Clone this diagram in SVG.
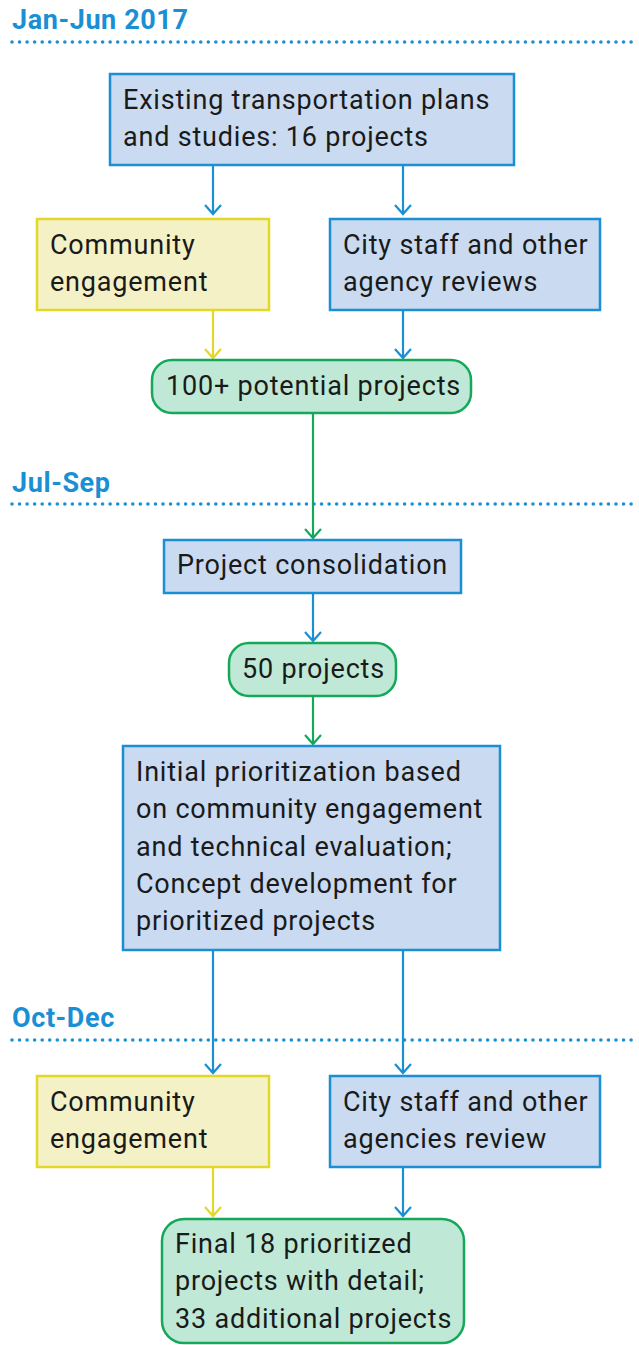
<svg xmlns="http://www.w3.org/2000/svg" width="639" height="1345" viewBox="0 0 639 1345">
<defs>
<style>
.blue{fill:#c9daf1;stroke:#1b8fd3;stroke-width:2.5}
.yel{fill:#f4f1c6;stroke:#e3d82a;stroke-width:2.5}
.grn{fill:#bfe9d6;stroke:#16a85a;stroke-width:2.5}
.t{font-family:Roboto,"Liberation Sans",sans-serif;font-size:27px;letter-spacing:0.8px;fill:#1a1a1a}
.h{font-family:Roboto,"Liberation Sans",sans-serif;font-size:27px;font-weight:bold;letter-spacing:0.6px;fill:#1b8fd3}
.dot{stroke:#1b8fd3;stroke-width:3.6;stroke-linecap:round;stroke-dasharray:0 7.55;fill:none}
.cb{stroke:#1b8fd3;stroke-width:2.2;fill:none}
.cy{stroke:#e3d82a;stroke-width:2.2;fill:none}
.cg{stroke:#16a85a;stroke-width:2.2;fill:none}
</style>
</defs>
<g id="phases">
<text class="h" x="12" y="29">Jan-Jun 2017</text>
<line class="dot" x1="12" y1="42" x2="632" y2="42"/>
<text class="h" x="12" y="492">Jul-Sep</text>
<line class="dot" x1="12" y1="504" x2="632" y2="504"/>
<text class="h" x="12" y="1027">Oct-Dec</text>
<line class="dot" x1="12" y1="1040" x2="632" y2="1040"/>
</g>
<g id="connectors">
<path class="cb" d="M213 165V214M205 205L213 214L221 205"/>
<path class="cb" d="M403 165V214M395 205L403 214L411 205"/>
<path class="cy" d="M213 310V358M205 349L213 358L221 349"/>
<path class="cb" d="M403 310V358M395 349L403 358L411 349"/>
<path class="cg" d="M313 413V538M305 529L313 538L321 529"/>
<path class="cb" d="M313 593V641M305 632L313 641L321 632"/>
<path class="cg" d="M313 696V744M305 735L313 744L321 735"/>
<path class="cb" d="M213 950V1073M205 1064L213 1073L221 1064"/>
<path class="cb" d="M403 950V1073M395 1064L403 1073L411 1064"/>
<path class="cy" d="M213 1167V1216M205 1207L213 1216L221 1207"/>
<path class="cb" d="M403 1167V1216M395 1207L403 1216L411 1207"/>
</g>
<g id="existing">
<rect class="blue" x="110" y="74" width="404" height="91"/>
<text class="t" x="123" y="109">Existing transportation plans</text>
<text class="t" x="123" y="146">and studies: 16 projects</text>
</g>
<g id="community1">
<rect class="yel" x="37" y="219" width="232" height="91"/>
<text class="t" x="50" y="254">Community</text>
<text class="t" x="50" y="291">engagement</text>
</g>
<g id="city1">
<rect class="blue" x="330" y="219" width="270" height="91"/>
<text class="t" x="343" y="254">City staff and other</text>
<text class="t" x="343" y="291">agency reviews</text>
</g>
<g id="potential">
<rect class="grn" x="152" y="360" width="319" height="53" rx="20"/>
<text class="t" x="166" y="395">100+ potential projects</text>
</g>
<g id="consolidation">
<rect class="blue" x="164" y="540" width="297" height="53"/>
<text class="t" x="177" y="574">Project consolidation</text>
</g>
<g id="fifty">
<rect class="grn" x="229" y="643" width="167" height="53" rx="20"/>
<text class="t" x="242" y="678">50 projects</text>
</g>
<g id="initial">
<rect class="blue" x="123" y="746" width="377" height="204"/>
<text class="t" x="136" y="781">Initial prioritization based</text>
<text class="t" x="136" y="818">on community engagement</text>
<text class="t" x="136" y="856">and technical evaluation;</text>
<text class="t" x="136" y="893">Concept development for</text>
<text class="t" x="136" y="930">prioritized projects</text>
</g>
<g id="community2">
<rect class="yel" x="37" y="1076" width="232" height="91"/>
<text class="t" x="50" y="1111">Community</text>
<text class="t" x="50" y="1148">engagement</text>
</g>
<g id="city2">
<rect class="blue" x="330" y="1076" width="270" height="91"/>
<text class="t" x="343" y="1111">City staff and other</text>
<text class="t" x="343" y="1148">agencies review</text>
</g>
<g id="final">
<rect class="grn" x="162" y="1219" width="302" height="124" rx="22"/>
<text class="t" x="175" y="1253">Final 18 prioritized</text>
<text class="t" x="175" y="1290">projects with detail;</text>
<text class="t" x="175" y="1328">33 additional projects</text>
</g>
</svg>
